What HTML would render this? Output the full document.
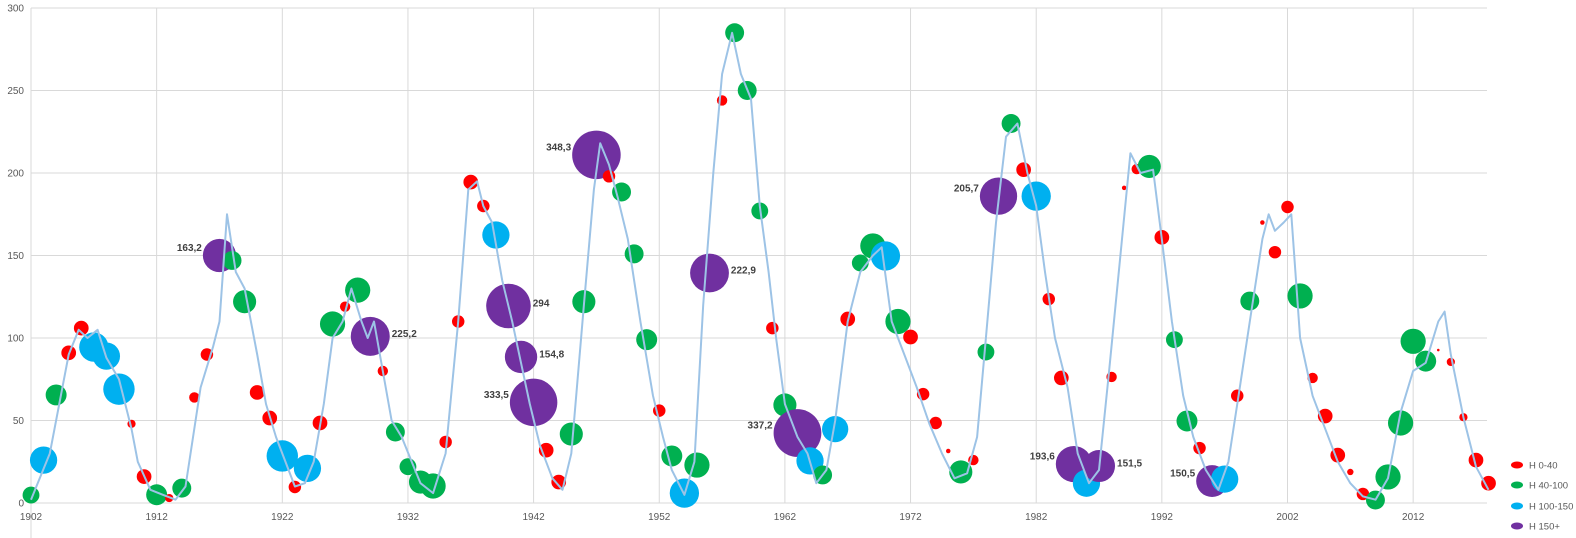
<!DOCTYPE html>
<html><head><meta charset="utf-8">
<style>
html,body{margin:0;padding:0;background:#fff;}
svg{display:block;font-family:"Liberation Sans",sans-serif;}
</style></head>
<body>
<svg id="chart" width="1576" height="538" viewBox="0 0 1576 538" xmlns="http://www.w3.org/2000/svg">
<g id="grid"></g>
<g id="bubbles"></g>
<g id="line"></g>
<g id="labels"></g>
<g id="axes"></g>
<g id="legend"></g>
</svg>
<script>
const startYear = 1902;
const bubbleValues = [4.8,26,65.5,91,106,94.5,89,69,48,16,5,3,9,64,90,150,147,122,67,51.5,28.5,9.7,21,48.5,108.5,119,129,101,80,43,22,12.7,10.3,37,110,194.5,180,162.4,119.4,88.5,61,32,12.7,41.8,122,211,198,188.5,151,99,56,28.5,6,23,139.4,244,285,250,177,106,59.4,42.4,25.5,17,44.8,111.5,145.5,155.8,149.7,110,100.6,66,48.5,31.5,18.8,26,91.5,186,230,202,186,123.6,75.8,23.6,12,22.4,76.4,191,202.4,204,161,99,49.7,33.3,13.3,14.5,65,122.4,170,152,179.4,125.5,75.8,52.7,29,18.8,5.5,1.8,15.8,48.5,98,86,92.7,85.5,52,26,12];
const bubbleH = [42,110,65,32,32,127,110,146,10,32,65,10,53,16,23,163.2,53,79,32,32,146,23,110,32,94,16,94,225.2,16,53,42,79,94,23,23,32,23,110,294,154.8,333.5,32,32,79,79,348.3,23,53,53,65,23,65,127,94,222.9,16,53,53,42,23,79,337.2,110,53,102,32,42,94,127,94,32,23,23,3,79,16,42,205.7,53,32,127,23,32,193.6,110,151.5,16,3,16,79,32,42,65,23,150.5,110,23,53,3,23,23,94,16,32,32,6,23,53,94,94,94,65,1,10,10,32,32];
const labelSide = {1917:'L',1929:'R',1940:'R',1941:'R',1942:'L',1947:'L',1956:'R',1963:'L',1979:'L',1985:'L',1987:'R',1996:'L'};
const lineYears = [1902,1903.5,1905,1905.8,1906.5,1907.3,1908,1909,1910,1910.5,1911.5,1912.5,1913.5,1914.3,1915.5,1916.5,1917,1917.6,1918.3,1919,1919.5,1920,1920.7,1921.5,1922.5,1923,1923.8,1924.5,1925.3,1926,1926.8,1927.5,1928.3,1928.8,1929.3,1930,1930.7,1931.5,1932.3,1933,1934,1935,1936,1936.8,1937.5,1938,1938.7,1939.5,1940.3,1941,1941.7,1942.5,1943.5,1944.3,1945,1946,1946.8,1947.3,1948,1948.7,1949.5,1950.5,1951.5,1952.3,1953,1954,1954.8,1955.5,1956.3,1957,1957.8,1958.5,1959.3,1960,1960.7,1961.3,1962,1963,1963.8,1964.5,1965.3,1966,1967,1968,1969,1969.7,1970.5,1971.5,1972.5,1973.5,1974.5,1975.5,1976.5,1977.3,1978,1978.8,1979.6,1980.5,1981.3,1982,1982.7,1983.5,1984.5,1985.3,1986.2,1987,1987.8,1988.7,1989.5,1990.3,1991.3,1992,1992.8,1993.7,1994.5,1995.5,1996.5,1997.3,1998.2,1999,2000,2000.5,2001,2001.7,2002.3,2003,2004,2005,2006,2007,2008,2009,2010,2011,2012,2013,2014,2014.5,2015,2016,2017,2018];
const lineValues = [2,30,90,105,100,105,88,75,45,25,8,5,2,10,70,95,110,175,140,130,110,90,60,40,20,10,12,25,60,100,110,130,110,100,110,80,50,40,25,12,6,30,110,190,195,180,170,135,110,85,60,35,15,8,30,120,190,218,205,185,160,110,65,40,20,5,25,120,200,260,285,260,245,180,140,100,60,40,30,12,20,50,110,140,150,155,110,90,70,48,30,15,18,40,100,170,222,230,200,180,140,100,70,30,12,20,80,150,212,200,202,160,110,65,40,20,8,25,70,110,160,175,165,170,175,100,65,45,25,12,4,2,15,55,80,85,110,116,90,52,22,8];
const yTicks = [0,50,100,150,200,250,300];
const xTicks = [1902,1912,1922,1932,1942,1952,1962,1972,1982,1992,2002,2012];
const legendLabels = ['H 0-40','H 40-100','H 100-150','H 150+'];
const legendColors = ['#ff0000','#00b050','#00b0f0','#7030a0'];

const NS='http://www.w3.org/2000/svg';
const X0=31, PXY=12.565, Y0=503, PYV=1.65, XR=1487;
function xs(y){return X0+(y-startYear)*PXY;}
function ys(v){return Y0-v*PYV;}
function mk(tag,attrs,parent){const e=document.createElementNS(NS,tag);for(const k in attrs)e.setAttribute(k,attrs[k]);parent.appendChild(e);return e;}
function colorFor(h){return h<40?legendColors[0]:h<100?legendColors[1]:h<150?legendColors[2]:legendColors[3];}

const grid=document.getElementById('grid'), axes=document.getElementById('axes');
yTicks.forEach(t=>{
  const l=mk('line',{x1:X0,x2:XR,y1:ys(t),y2:ys(t),stroke:'#d9d9d9','stroke-width':1},grid);
  
  
  const tx=mk('text',{x:24,y:ys(t)+3.5,'text-anchor':'end','font-size':10,fill:'#595959'},axes);
  tx.textContent=t;
  
  
});
xTicks.forEach(t=>{
  const l=mk('line',{x1:xs(t),x2:xs(t),y1:ys(300),y2:t===1902?538:Y0,stroke:'#d9d9d9','stroke-width':1},grid);
  
  
  const tx=mk('text',{x:xs(t),y:520,'text-anchor':'middle','font-size':10,fill:'#595959'},axes);
  tx.textContent=t;
  
  
});

const bub=document.getElementById('bubbles'), lab=document.getElementById('labels');
bubbleValues.forEach((v,i)=>{
  const yr=startYear+i, h=bubbleH[i], r=Math.max(1.3,1.3*Math.sqrt(h));
  const c=mk('circle',{cx:xs(yr),cy:ys(v),r:r,fill:colorFor(h)},bub);
  
  
  if(labelSide[yr]){
    const left=labelSide[yr]==='L';
    const t=mk('text',{x:left?xs(yr)-r-1:xs(yr)+r+2,y:ys(v)-(left?8:3)+3.5,'text-anchor':left?'end':'start','font-size':10,'font-weight':'bold',fill:'#404040'},lab);
    t.textContent=String(h).replace('.',',');
    
    
  }
});

const pts=lineYears.map((y,i)=>xs(y).toFixed(1)+','+ys(lineValues[i]).toFixed(1)).join(' ');
const pl=mk('polyline',{points:pts,fill:'none',stroke:'#9dc3e6','stroke-width':2,'stroke-linejoin':'round'},document.getElementById('line'));



const leg=document.getElementById('legend');
const legY=[465,485,506,526];
legendLabels.forEach((s,i)=>{
  const g=mk('g',{},leg);
  
  
  mk('ellipse',{cx:1517,cy:legY[i],rx:6,ry:3.5,fill:legendColors[i]},g);
  const t=mk('text',{x:1529,y:legY[i]+3.5,'font-size':9.5,fill:'#595959'},g);
  t.textContent=s;
});
</script>
</body></html>
